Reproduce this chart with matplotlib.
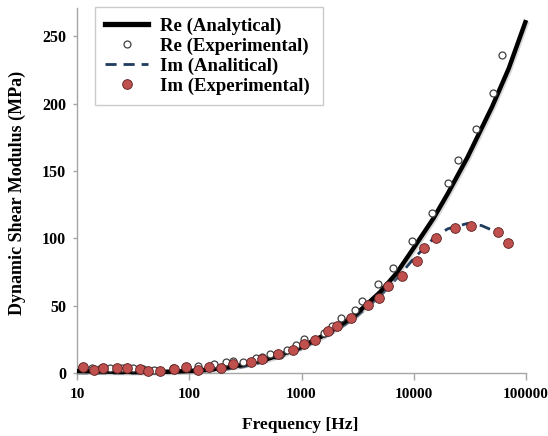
import matplotlib
matplotlib.use("Agg")
import matplotlib.pyplot as plt
import matplotlib.patheffects as pe
from matplotlib.lines import Line2D

# ---- data ----
re_ana_f = [10, 20, 30, 50, 70, 100, 150, 200, 300, 500, 700, 1000, 1500, 2000, 3000,
            5000, 7000, 10000, 15000, 20000, 30000, 50000, 70000, 100000]
re_ana_v = [1.5, 1.0, 0.8, 0.8, 1.0, 1.5, 2.5, 3.8, 6.0, 10.5, 14.5, 19.5, 27, 33, 43,
            60, 74, 93, 115, 133, 160, 198, 226, 262]

im_ana_f = [10, 30, 100, 200, 300, 500, 700, 1000, 2000, 3000, 5000, 7000, 10000,
            15000, 20000, 30000, 40000, 50000, 60000]
im_ana_v = [0.0, -0.3, 0.5, 2.5, 4.5, 9, 13, 18, 31, 41, 57, 70, 85,
            100, 107, 111, 109.5, 106, 102]

re_exp_f = [11, 13.5, 16.3, 19.7, 25, 31.3, 38.5, 48.5, 72, 95, 120, 166, 211, 247, 299,
            393, 441, 524, 643, 738, 887, 1050, 1600, 1880, 2235, 3000, 3440, 4770,
            6490, 9600, 14450, 20000, 24600, 35600, 50800, 61500]
re_exp_v = [4.7, 3.5, 3.5, 3.5, 3.5, 3.5, 3.2, 2.2, 3.5, 3.5, 5.4, 6.7, 7.9, 9.1, 8.2,
            10.9, 11.6, 13.9, 13.4, 17, 20.8, 25, 30, 35, 40.6, 47, 53.6, 65.8,
            78, 98, 118.5, 141, 158, 181.5, 208, 236]

im_exp_f = [11.2, 14.3, 17.1, 22.6, 27.7, 36.4, 43, 54.8, 73.6, 93, 120, 151, 191, 247,
            355, 441, 621, 845, 1060, 1318, 1710, 2085, 2745, 3940, 4880, 5940, 7810,
            10600, 12400, 15800, 23300, 32400, 56300, 68700]
im_exp_v = [4.2, 2.2, 3.5, 3.5, 3.5, 3.0, 1.7, 1.7, 3.0, 4.7, 2.2, 4.7, 3.5, 6.4,
            8.4, 10.2, 14.1, 17, 21.5, 24.5, 31.4, 34.9, 41, 50.4, 55.4, 64.5, 72.2,
            83.3, 92.7, 100, 107.3, 109.3, 104.8, 96.7]

y_ticks = [0, 50, 100, 150, 200, 250]
x_ticks = [10, 100, 1000, 10000, 100000]
x_ticklabels = ["10", "100", "1000", "10000", "100000"]

legend_labels = ["Re (Analytical)", "Re (Experimental)", "Im (Analitical)", "Im (Experimental)"]

# ---- style ----
plt.rcParams['font.family'] = ['Liberation Serif', 'DejaVu Serif']
plt.rcParams['font.weight'] = 'bold'

fig = plt.figure(figsize=(5.48, 4.36), dpi=100)
ax = fig.add_axes([0.1405, 0.1445, 0.8195, 0.8372])

red = '#C0504D'
blue = '#1F3B5E'
grey = '#A6A6A6'

shadow = [pe.SimpleLineShadow(offset=(1.0, -1.0), shadow_color='#999999', alpha=0.4), pe.Normal()]

ax.plot(re_ana_f, re_ana_v, color='black', lw=3.2, solid_capstyle='butt',
        path_effects=shadow, zorder=3, clip_on=False)
ax.plot(im_ana_f, im_ana_v, color=blue, lw=2.0, dashes=(4, 2.5), zorder=2, clip_on=False)
ax.plot(re_exp_f, re_exp_v, ls='none', marker='o', ms=5, mfc='white', mec='#404040',
        mew=0.9, zorder=4, clip_on=False)
ax.plot(im_exp_f, im_exp_v, ls='none', marker='o', ms=7, mfc=red, mec='#5a2020',
        mew=0.6, zorder=5, clip_on=False)

ax.set_xscale('log')
ax.set_xlim(10, 100000)
ax.set_ylim(0, 271)

ax.set_yticks(y_ticks)
ax.set_yticklabels([str(v) for v in y_ticks], fontsize=11.5, fontweight='bold')
ax.set_xticks(x_ticks)
ax.set_xticklabels(x_ticklabels, fontsize=11, fontweight='bold')
ax.xaxis.set_minor_locator(matplotlib.ticker.NullLocator())
ax.tick_params(axis='y', length=3, width=1, color=grey, direction='out', pad=5)
ax.tick_params(axis='x', length=5, width=1, color=grey, direction='out', pad=6)

for s in ['top', 'right']:
    ax.spines[s].set_visible(False)
for s in ['left', 'bottom']:
    ax.spines[s].set_color(grey)
    ax.spines[s].set_linewidth(1.0)

fig.text(0.547, 0.026, "Frequency [Hz]", fontsize=12.5, fontweight='bold',
         ha='center', va='center')
fig.text(0.031, 0.557, "Dynamic Shear Modulus (MPa)", fontsize=13, fontweight='bold',
         ha='center', va='center', rotation=90)

handles = [
    Line2D([], [], color='black', lw=3.8),
    Line2D([], [], ls='none', marker='o', ms=5, mfc='white', mec='#404040', mew=0.9),
    Line2D([], [], color=blue, lw=2.0, dashes=(4, 2.5)),
    Line2D([], [], ls='none', marker='o', ms=7, mfc=red, mec='#5a2020', mew=0.6),
]
leg = ax.legend(handles, legend_labels, loc='upper left',
                bbox_to_anchor=(0.04, 0.0, 0.508, 1.003), mode='expand', borderaxespad=0,
                frameon=True, fancybox=False, edgecolor='#BFBFBF',
                prop={'weight': 'bold', 'size': 13.5}, handlelength=2.3, handletextpad=0.6,
                labelspacing=0.15, borderpad=0.55)
leg.get_frame().set_linewidth(1.0)

fig.savefig('out.png', dpi=100)
